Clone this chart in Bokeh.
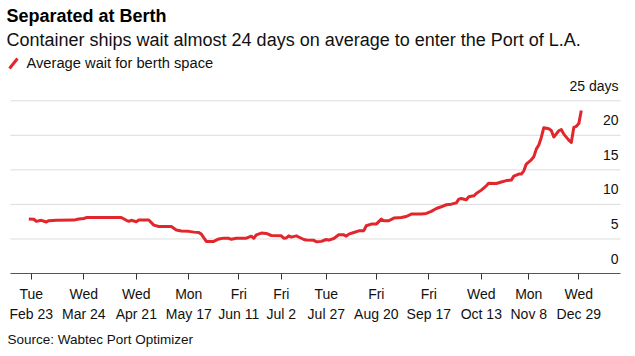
from bokeh.plotting import figure
from bokeh.models import Range1d, FixedTicker, Label, Arrow, Title
from bokeh.embed import file_html
from bokeh.resources import INLINE
from bokeh.core.properties import value

# ---- data ----
obs = [0, 2, 3, 5, 7, 8, 11, 18, 20, 22, 23, 29, 37, 39, 40, 41, 43, 44, 48, 50,
       52, 57, 59, 61, 64, 66, 68, 69, 71, 74, 76, 78, 80, 81, 83, 87, 89, 90, 91, 93,
       95, 97, 101, 102, 103, 104, 105, 107, 109, 110, 111, 114, 115, 117, 119, 120, 122, 124, 126, 127,
       128, 130, 132, 134, 135, 137, 139, 141, 142, 144, 146, 149, 151, 153, 157, 159, 161, 163, 165, 167,
       169, 171, 172, 173, 175, 176, 178, 179, 181, 183, 184, 187, 189, 191, 193, 194, 196, 197, 198, 199,
       201, 202, 203, 204, 205, 206, 208, 209, 210, 212, 213, 214, 216, 217, 218, 219, 220, 221]
wait_days = [7.9, 7.85, 7.55, 7.7, 7.45, 7.65, 7.7, 7.73, 7.9, 7.96, 8.1, 8.1, 8.1, 7.7, 7.55, 7.7, 7.5, 7.75, 7.75, 7.0,
             6.8, 6.8, 6.3, 6.14, 6.1, 5.99, 5.94, 5.7, 4.65, 4.65, 5.0, 5.12, 5.1, 4.95, 5.1, 5.12, 5.4, 5.1, 5.6, 5.85,
             5.8, 5.5, 5.45, 5.12, 5.15, 5.45, 5.27, 5.45, 5.1, 4.92, 4.85, 4.8, 4.6, 4.65, 4.92, 4.83, 5.07, 5.6, 5.6, 5.41,
             5.7, 5.94, 6.18, 6.2, 6.91, 7.15, 7.15, 7.87, 7.63, 7.63, 8.02, 8.1, 8.25, 8.6, 8.6, 8.7, 9.0, 9.41, 9.66, 9.95,
             10.04, 10.23, 10.77, 10.86, 10.67, 11.1, 11.25, 11.58, 12.07, 12.7, 13.08, 13.03, 13.25, 13.45, 13.52, 14.1, 14.4, 14.39, 14.87, 15.83,
             16.46, 16.89, 18.0, 18.59, 19.69, 21.1, 20.95, 20.7, 19.75, 20.66, 20.85, 20.18, 19.31, 18.96, 21.14, 21.3, 21.7, 23.6]

tick_obs = [1, 22, 43, 64, 84, 101, 119, 139, 160, 181, 200, 220]
tick_labels = ["Tue\nFeb 23", "Wed\nMar 24", "Wed\nApr 21", "Mon\nMay 17", "Fri\nJun 11", "Fri\nJul 2",
               "Tue\nJul 27", "Fri\nAug 20", "Fri\nSep 17", "Wed\nOct 13", "Mon\nNov 8", "Wed\nDec 29"]
y_ticks = [0, 5, 10, 15, 20, 25]
y_tick_labels = ["0", "5", "10", "15", "20", "25 days"]

title_text = "Separated at Berth"
subtitle_text = "Container ships wait almost 24 days on average to enter the Port of L.A."
legend_text = "Average wait for berth space"
source_text = "Source: Wabtec Port Optimizer"

FONT = "Liberation Sans"
RED = "#e3262b"

# plotting area spans the whole width; grid / axis are bounded inside it
X0, X1 = -11.32, 242.68
GX0, GX1 = -7.32, 236.68
Y0, Y1 = 0, 39.52

p = figure(width=635, height=356, output_backend="svg", toolbar_location=None,
           x_range=Range1d(X0, X1), y_range=Range1d(Y0, Y1),
           min_border_left=0, min_border_right=0, min_border_top=0, min_border_bottom=83)
p.outline_line_color = None
p.background_fill_color = "white"
p.border_fill_color = "white"

p.xgrid.visible = False
p.ygrid.visible = False
p.yaxis.visible = False

# horizontal gridlines at the y ticks
gy = [t for t in y_ticks if t > 0]
p.segment(x0=[GX0] * len(gy), y0=gy, x1=[GX1] * len(gy), y1=gy,
          line_color="#dcdcdc", line_width=1)

# x axis
xa = p.xaxis[0]
xa.bounds = (GX0, GX1)
xa.ticker = FixedTicker(ticks=tick_obs)
xa.major_label_overrides = {t: l for t, l in zip(tick_obs, tick_labels)}
xa.axis_line_color = "#555555"
xa.axis_line_width = 1
xa.major_tick_line_color = "#333333"
xa.major_tick_out = 6
xa.major_tick_in = 0
xa.minor_tick_line_color = None
xa.major_label_standoff = 6
xa.major_label_text_font = FONT
xa.major_label_text_font_size = "14px"
xa.major_label_text_color = "#111111"
xa.major_label_text_line_height = 1.3

# line
p.line(obs, wait_days, line_color=RED, line_width=3, line_join="round")

# y labels (right, above gridlines)
p.text(x=[GX1] * len(y_ticks), y=y_ticks, text=y_tick_labels, x_offset=-2, y_offset=-15,
       text_align="right", text_baseline="alphabetic", text_font=value(FONT),
       text_font_size="14px", text_color="#111111")

# header texts (screen units relative to frame bottom-left)
p.add_layout(Label(x=6, y=258, x_units="screen", y_units="screen", text=title_text,
                   text_font=FONT, text_font_size="18px", text_font_style="bold",
                   text_color="#000000", text_baseline="alphabetic"))
p.add_layout(Label(x=6, y=234, x_units="screen", y_units="screen", text=subtitle_text,
                   text_font=FONT, text_font_size="18px", text_color="#111111",
                   text_baseline="alphabetic"))
p.add_layout(Arrow(x_start=9, y_start=205, x_end=17, y_end=215,
                   start_units="screen", end_units="screen", end=None, start=None,
                   line_color=RED, line_width=3))
p.add_layout(Label(x=26, y=211, x_units="screen", y_units="screen", text=legend_text,
                   text_font=FONT, text_font_size="14.7px", text_color="#111111",
                   text_baseline="alphabetic"))

# footer
p.add_layout(Title(text=source_text, align="left", offset=7, standoff=8,
                   text_font=FONT, text_font_size="13.5px", text_font_style="normal",
                   text_color="#111111"), "below")

open("out.html", "w").write(file_html(p, INLINE))
